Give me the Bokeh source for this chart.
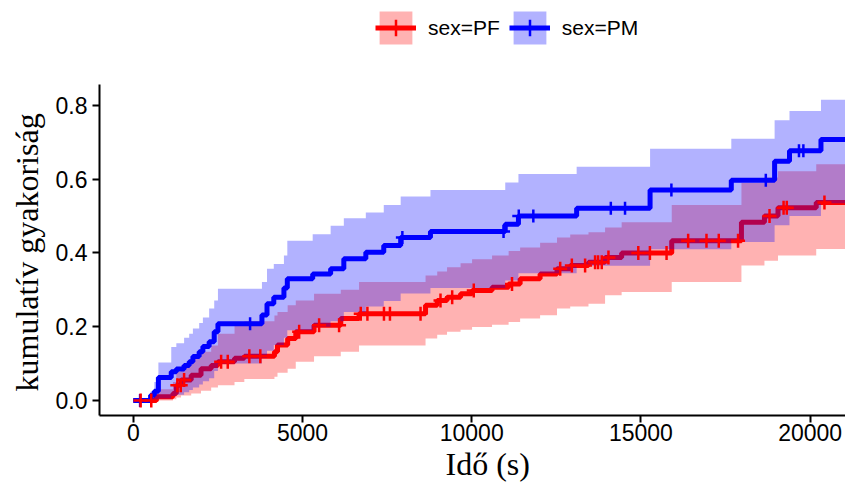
import numpy as np
from bokeh.plotting import figure
from bokeh.models import Range1d, FixedTicker, NumeralTickFormatter, Legend, LegendItem, Title
from bokeh.embed import file_html
from bokeh.resources import INLINE

follow_up_end = 21100

# ---- sex=PM (blue): event times, cumulative incidence, CI ----
pm_t = [0, 510, 620, 740, 1120, 1270, 1500, 1650, 1760, 1945, 2055, 2240, 2390, 2500,
        3800, 3950, 4150, 4450, 4550, 5300, 5830, 6220, 6870, 7400, 7900, 8780,
        10990, 11380, 13100, 15270, 17670, 18950, 19390, 20320]
pm_est = [0.0, 0.014, 0.025, 0.062, 0.078, 0.085, 0.095, 0.105, 0.119, 0.132, 0.146, 0.159, 0.186, 0.208,
          0.232, 0.262, 0.280, 0.305, 0.330, 0.343, 0.357, 0.384, 0.402, 0.420, 0.442, 0.458,
          0.478, 0.500, 0.521, 0.571, 0.597, 0.649, 0.677, 0.708]
pm_lo = [0.0, 0.0, 0.0, 0.005, 0.012, 0.015, 0.022, 0.028, 0.035, 0.043, 0.052, 0.060, 0.080, 0.100,
         0.115, 0.135, 0.150, 0.170, 0.190, 0.200, 0.215, 0.240, 0.255, 0.270, 0.290, 0.305,
         0.325, 0.345, 0.365, 0.410, 0.430, 0.475, 0.500, 0.535]
pm_hi = [0.0, 0.024, 0.050, 0.103, 0.145, 0.155, 0.170, 0.181, 0.195, 0.210, 0.225, 0.249, 0.271, 0.303,
         0.321, 0.357, 0.370, 0.393, 0.433, 0.451, 0.474, 0.494, 0.510, 0.530, 0.553, 0.571,
         0.591, 0.614, 0.634, 0.683, 0.710, 0.760, 0.785, 0.816]
pm_censor = [200, 3450, 7950, 10940, 11390, 11820, 14110, 14530, 15900, 18690, 19670, 19800]

# ---- sex=PF (red) ----
pf_t = [0, 680, 1170, 1270, 1410, 1710, 2000, 2300, 2500, 2990, 3280, 4170, 4260, 4560, 4800,
        5340, 6130, 6670, 8635, 8980, 9270, 9670, 10010, 10600, 11090, 11430, 12020, 12520,
        12910, 13450, 13940, 14430, 15910, 17970, 18650, 19050, 20180]
pf_est = [0.0, 0.010, 0.019, 0.041, 0.055, 0.068, 0.086, 0.095, 0.105, 0.114, 0.120, 0.132, 0.150, 0.168, 0.186,
          0.204, 0.222, 0.235, 0.258, 0.271, 0.280, 0.289, 0.298, 0.307, 0.316, 0.330, 0.343, 0.357,
          0.366, 0.375, 0.388, 0.400, 0.433, 0.483, 0.500, 0.523, 0.537]
pf_lo = [0.0, 0.0, 0.003, 0.008, 0.013, 0.019, 0.026, 0.035, 0.041, 0.050, 0.058, 0.064, 0.075, 0.086, 0.105,
         0.120, 0.132, 0.149, 0.168, 0.178, 0.186, 0.192, 0.199, 0.205, 0.213, 0.222, 0.231, 0.249,
         0.255, 0.262, 0.285, 0.294, 0.321, 0.366, 0.379, 0.393, 0.411]
pf_hi = [0.0, 0.030, 0.050, 0.078, 0.095, 0.115, 0.132, 0.149, 0.181, 0.204, 0.215, 0.230, 0.240, 0.258, 0.271,
         0.289, 0.300, 0.321, 0.339, 0.350, 0.361, 0.372, 0.383, 0.393, 0.405, 0.415, 0.428, 0.442,
         0.450, 0.456, 0.469, 0.483, 0.530, 0.590, 0.605, 0.622, 0.641]
pf_censor = [215, 530, 1300, 1400, 1500, 2594, 2790, 3428, 3752, 4900, 5490, 6080, 6720, 6917, 7406,
             7583, 8487, 9077, 9422, 10060, 11190, 12614, 12958, 13350, 13645, 13733, 13842, 14040,
             14922, 15265, 15757, 16395, 16937, 17300, 17870, 18800, 19215, 19310, 20423]

x_ticks = [0, 5000, 10000, 15000, 20000]
y_ticks = [0.0, 0.2, 0.4, 0.6, 0.8]
y_axis_span = (-0.041, 0.857)


def extend(t, *ys):
    return [list(t) + [follow_up_end]] + [list(y) + [y[-1]] for y in ys]


def censor_y(t, est, c):
    idx = np.searchsorted(np.asarray(t), np.asarray(c), side="right") - 1
    return list(np.asarray(est)[idx])


# frame runs to the top of the figure so the legend can sit inside it;
# the y axis line is bounded to the panel's data span
p = figure(width=845, height=482, output_backend="svg", toolbar_location=None,
           x_range=Range1d(-1000, 21045), y_range=Range1d(-0.041, 1.085),
           min_border_left=97, min_border_right=0, min_border_top=0, min_border_bottom=67)
p.outline_line_color = None
p.xgrid.visible = False
p.ygrid.visible = False
p.background_fill_color = "white"

RED = "#ff0000"
BLUE = "#0000ff"

tx, lo, hi, est = extend(pf_t, pf_lo, pf_hi, pf_est)
pf_band = p.varea_step(x=tx, y1=lo, y2=hi, step_mode="after", fill_color=RED, fill_alpha=0.3)
pf_line = p.step(tx, est, mode="after", line_color=RED, line_width=5)

tx, lo, hi, est = extend(pm_t, pm_lo, pm_hi, pm_est)
pm_band = p.varea_step(x=tx, y1=lo, y2=hi, step_mode="after", fill_color=BLUE, fill_alpha=0.3)
pm_line = p.step(tx, est, mode="after", line_color=BLUE, line_width=5)

pm_c = p.scatter(pm_censor, censor_y(pm_t, pm_est, pm_censor), marker="cross", size=13,
                 line_color=BLUE, line_width=2.5)
pf_c = p.scatter(pf_censor, censor_y(pf_t, pf_est, pf_censor), marker="cross", size=14,
                 line_color=RED, line_width=2.5)

for ax in (p.xaxis[0], p.yaxis[0]):
    ax.axis_line_width = 2
    ax.axis_line_color = "black"
    ax.major_tick_line_width = 2
    ax.major_tick_line_color = "black"
    ax.major_tick_out = 7
    ax.major_tick_in = 0
    ax.minor_tick_line_color = None
    ax.major_label_text_font = "Liberation Sans"
    ax.major_label_text_font_size = "23px"
    ax.major_label_text_color = "black"

p.yaxis.bounds = y_axis_span
p.xaxis.ticker = FixedTicker(ticks=x_ticks)
p.xaxis.formatter = NumeralTickFormatter(format="0")
p.yaxis.ticker = FixedTicker(ticks=y_ticks)
p.yaxis.formatter = NumeralTickFormatter(format="0.0")
p.xaxis.major_label_standoff = 1
p.yaxis.major_label_standoff = 5

# axis titles as side titles, placed along the bounded panel
x_title = Title(text="Idő (s)", align="left", offset=346, standoff=0,
                text_font="Liberation Serif", text_font_size="32px",
                text_font_style="normal", text_color="black")
y_title = Title(text="kumulatív gyakoriság", align="left", offset=24, standoff=14,
                vertical_align="middle",
                text_font="Liberation Serif", text_font_size="32px",
                text_font_style="normal", text_color="black")
p.add_layout(x_title, "below")
p.add_layout(y_title, "left")

legend = Legend(items=[LegendItem(label="sex=PF", renderers=[pf_band, pf_line, pf_c]),
                       LegendItem(label="sex=PM", renderers=[pm_band, pm_line, pm_c])],
                orientation="horizontal", location=(276, 367),
                glyph_width=41, glyph_height=41, label_standoff=12, spacing=9,
                padding=0, margin=0, border_line_alpha=0, background_fill_alpha=0,
                label_text_font="Liberation Sans", label_text_font_size="21px",
                label_text_color="black", label_height=41)
p.add_layout(legend)

open("out.html", "w").write(file_html(p, INLINE))
